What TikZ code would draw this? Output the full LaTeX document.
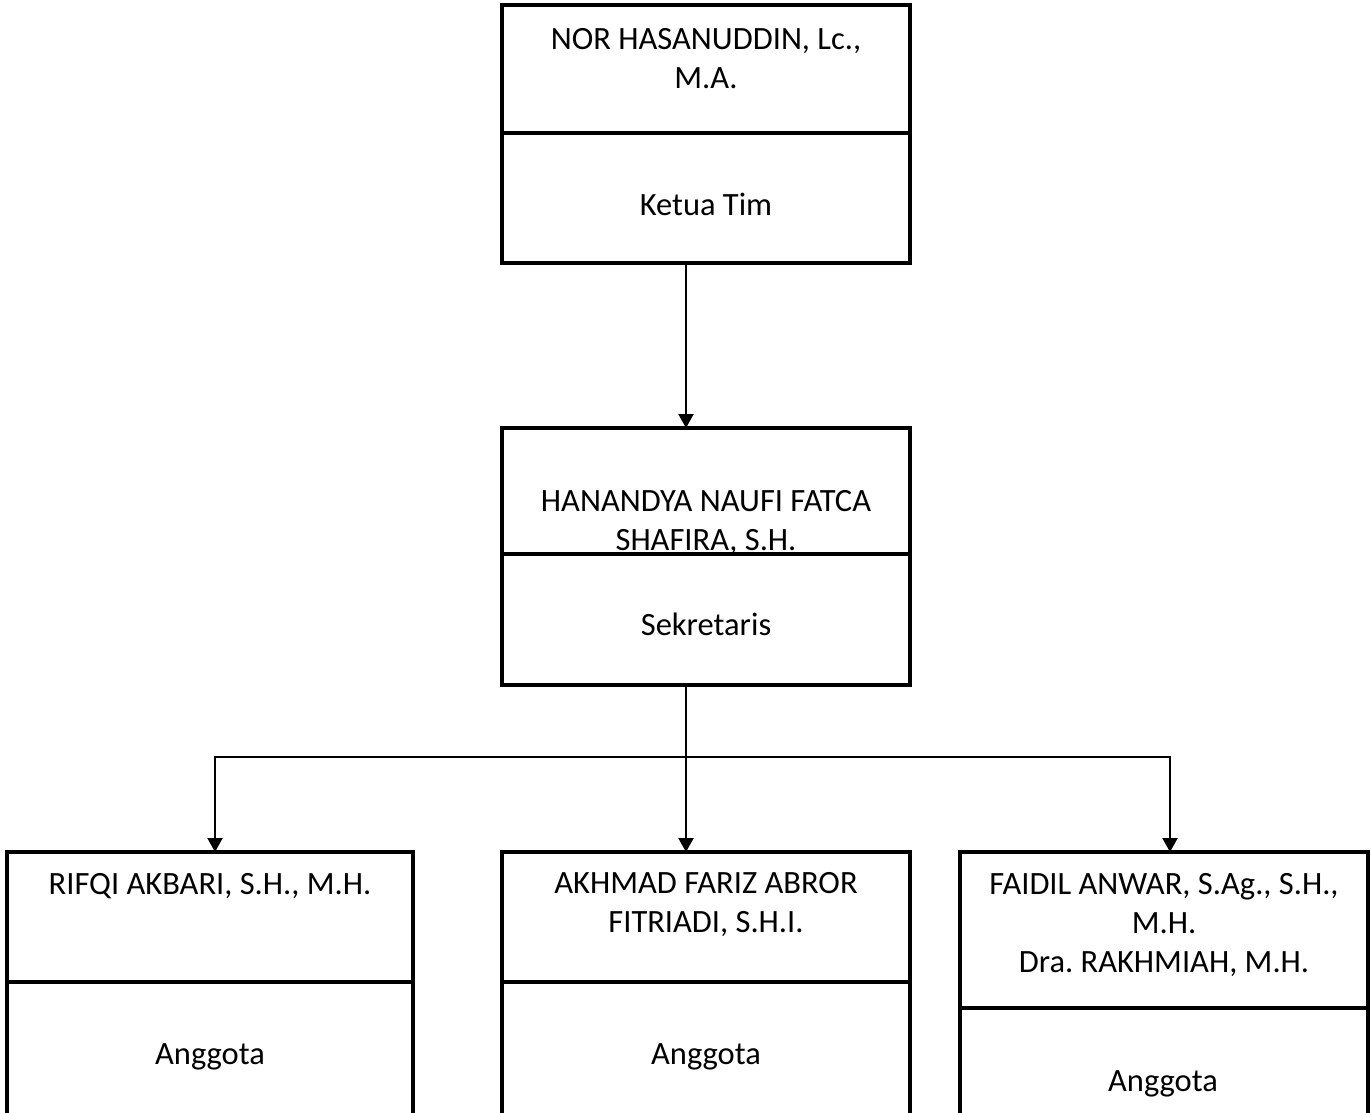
\documentclass[tikz,border=0pt]{standalone}
\usepackage{fontspec}
\setmainfont{Carlito}
\frenchspacing
\usetikzlibrary{positioning,arrows.meta}

\tikzset{
	box/.style={draw,line width=3.5pt,minimum width=408pt,inner sep=0pt,outer sep=0pt},
	lbl/.style={font=\fontsize{32.5}{39}\selectfont,align=center,inner sep=0pt}
}

\begin{document}
\begin{tikzpicture}[x=1pt,y=-1pt,>={Triangle[width=15pt,length=14pt]},line width=2pt]
		\useasboundingbox (0,0) rectangle (1371,1112);
		\clip (0,0) rectangle (1371,1112);
		
		\node[box,minimum height=128pt] (ketuaN) at (706,69) {};
		\node[box,minimum height=130pt] (ketuaR) [below=0pt of ketuaN] {};
		\node[box,minimum height=126pt] (sekN) at (706,491) {};
		\node[box,minimum height=131pt] (sekR) [below=0pt of sekN] {};
		\node[box,minimum width=406pt,minimum height=130pt] (agg1N) at (210,917) {};
		\node[box,minimum width=406pt,minimum height=160pt] (agg1R) [below=0pt of agg1N] {};
		\node[box,minimum height=130pt] (agg2N) at (706,917) {};
		\node[box,minimum height=160pt] (agg2R) [below=0pt of agg2N] {};
		\node[box,minimum height=156pt] (agg3N) at (1164,930) {};
		\node[box,minimum height=140pt] (agg3R) [below=0pt of agg3N] {};
		
		\node[lbl,anchor=north] (ketuaNama) at (706,27.5) {NOR HASANUDDIN, Lc.,\\M.A.};
		\node[lbl,anchor=base] (ketuaJab) at (706,215) {Ketua Tim};
		\node[lbl,anchor=north] (sekNama) at (706,489.5) {HANANDYA NAUFI FATCA\\SHAFIRA, S.H.};
		\node[lbl,anchor=base] (sekJab) at (706,635) {Sekretaris};
		\node[lbl,anchor=base] (agg1Nama) at (210,894) {RIFQI AKBARI, S.H., M.H.};
		\node[lbl,anchor=base] (agg1Jab) at (210,1064) {Anggota};
		\node[lbl,anchor=north] (agg2Nama) at (706,871.5) {AKHMAD FARIZ ABROR\\FITRIADI, S.H.I.};
		\node[lbl,anchor=base] (agg2Jab) at (706,1064) {Anggota};
		\node[lbl,anchor=north] (agg3Nama) at (1164,872.5) {FAIDIL ANWAR, S.Ag., S.H.,\\M.H.\\Dra. RAKHMIAH, M.H.};
		\node[lbl,anchor=base] (agg3Jab) at (1163,1091) {Anggota};
		
		\coordinate (trunk) at (686,757);
		\coordinate (busL) at (215,757);
		\coordinate (busR) at (1170,757);
		
		\draw[->] (ketuaR.south -| trunk) -- (sekN.north -| trunk);
		\draw[->] (sekR.south -| trunk) -- (agg2N.north -| trunk);
		\draw[<->] (agg1N.north -| busL) |- (busR) -- (agg3N.north -| busR);
\end{tikzpicture}
\end{document}
